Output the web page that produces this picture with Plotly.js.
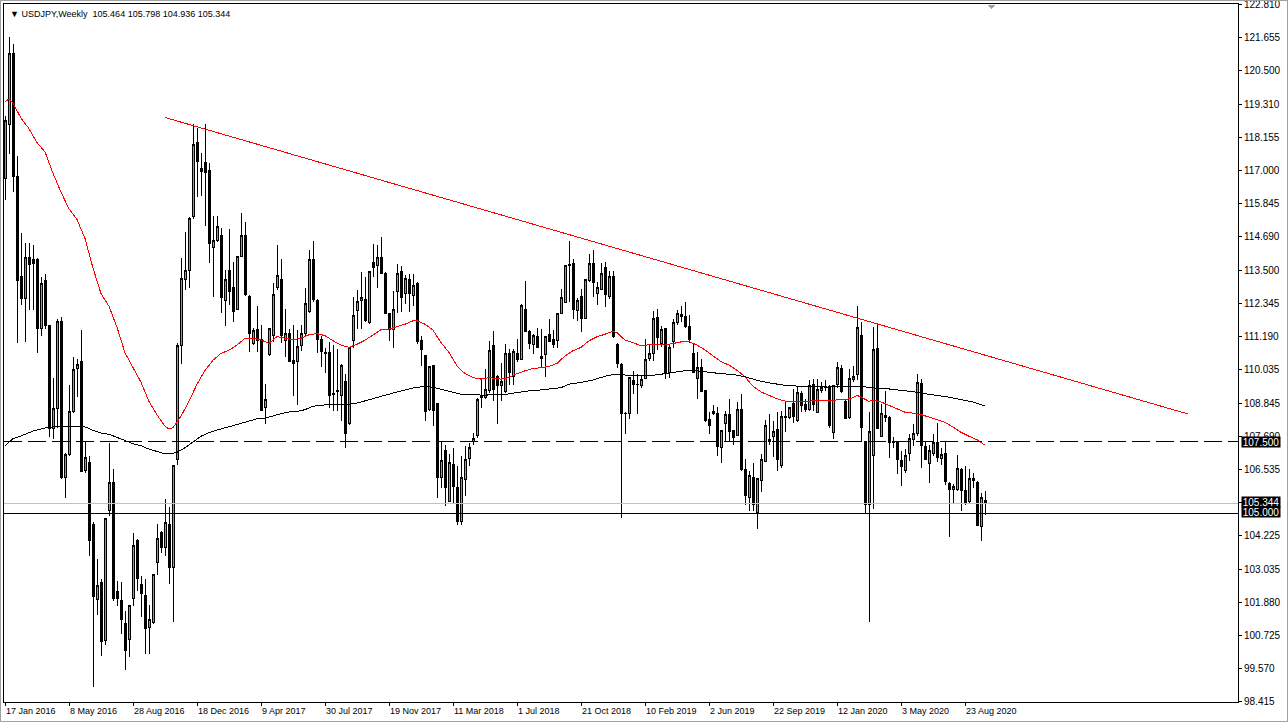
<!DOCTYPE html>
<html><head><meta charset="utf-8">
<script src="https://cdn.plot.ly/plotly-3.0.1.min.js"></script>
<style>
html,body{margin:0;padding:0;background:#fff;}
#chart{width:1288px;height:725px;}
#chart svg path{shape-rendering:crispEdges;}
</style></head><body><div id="chart"></div><script>
// ---- Weekly USDJPY candles, week 0 = 17 Jan 2016 ----
const opens = [
116.70,118.60,121.09,116.79,113.30,112.51,113.95,113.87,113.90,111.48,
113.14,111.58,107.96,108.67,111.73,106.26,107.07,108.55,110.07,110.33,
106.52,106.80,104.60,102.00,102.60,100.56,105.10,106.08,102.26,101.97,
101.15,100.60,102.04,104.07,102.53,102.14,101.00,101.20,103.27,104.33,
103.82,104.60,103.10,106.87,110.89,113.20,113.50,115.39,117.98,117.05,
117.26,117.00,114.29,114.55,114.73,112.44,113.51,112.90,112.12,114.00,
114.73,112.60,110.93,111.43,111.07,108.69,110.57,111.23,112.89,113.18,
111.05,111.29,110.36,110.33,110.89,111.29,112.08,113.87,112.46,111.10,
110.64,110.63,109.20,109.25,109.14,109.60,108.15,111.04,112.11,112.45,
112.50,111.68,113.79,113.67,113.94,113.41,112.00,111.45,112.77,113.47,
112.68,113.20,112.62,113.05,111.04,110.51,108.64,110.16,108.84,106.27,
107.21,105.43,106.70,105.90,104.71,106.19,106.91,107.50,107.71,109.05,
109.05,109.31,110.86,109.80,109.46,109.26,110.61,109.79,110.61,110.40,
112.15,111.36,110.90,111.18,110.48,110.57,111.27,111.07,111.04,112.00,
112.38,113.72,113.73,112.09,112.58,111.83,113.14,113.73,112.71,112.85,
113.59,112.58,113.29,110.90,110.22,108.49,108.49,109.66,109.52,109.49,
109.72,110.42,110.61,111.87,110.95,111.48,109.92,111.01,111.68,111.95,
111.89,111.54,110.60,109.72,110.10,109.31,108.27,108.49,108.49,107.29,
108.16,108.45,107.90,107.72,108.64,106.55,105.55,106.26,105.02,106.17,
106.82,107.50,107.70,107.93,106.67,108.35,108.37,108.84,108.25,109.19,
108.80,108.63,109.52,108.54,109.31,109.45,109.42,107.84,109.50,110.07,
108.92,108.37,109.68,109.86,111.24,107.51,105.32,107.04,110.77,107.69,
108.35,108.37,107.50,107.52,106.84,106.49,107.08,107.57,107.78,109.54,
107.34,106.75,107.10,107.49,106.92,107.11,106.06,105.83,105.85,106.55,
105.79,105.41,106.23,106.10,104.55,105.464];
const highs = [
118.90,121.67,121.42,117.50,114.80,114.47,114.47,114.40,113.95,113.28,
113.36,111.60,109.73,111.79,111.88,107.10,109.50,110.47,110.40,111.40,
107.50,107.00,104.70,103.40,102.70,104.85,107.47,106.55,102.63,102.60,
101.60,101.80,104.33,104.10,102.80,102.70,101.80,102.86,104.63,104.40,
105.50,105.24,106.70,110.95,113.93,114.85,115.36,118.63,118.48,117.60,
118.63,117.26,115.42,115.42,115.00,113.51,114.94,113.80,113.98,115.50,
115.18,112.65,111.49,112.24,111.60,109.52,111.49,113.07,114.38,113.90,
112.14,111.45,111.60,111.43,111.60,112.90,114.20,114.52,112.50,111.20,
110.80,110.98,110.90,110.75,110.22,109.87,110.83,112.58,112.80,113.43,
113.26,113.48,114.43,114.40,114.68,113.45,112.02,112.79,113.73,113.67,
113.34,113.38,113.38,113.10,111.21,110.55,110.16,110.20,108.85,107.54,
107.40,107.07,107.30,106.66,107.00,107.36,107.48,107.83,109.03,109.75,
110.05,111.04,111.39,109.85,110.28,110.92,110.75,110.75,111.10,112.32,
113.14,111.40,111.28,111.50,111.45,111.22,111.80,111.40,112.02,112.85,
113.70,114.52,113.90,112.55,112.85,113.19,114.08,114.20,113.10,113.75,
113.80,113.49,113.49,110.95,110.25,108.55,109.78,109.99,109.87,109.80,
111.10,110.90,112.09,112.15,111.54,111.50,110.89,111.80,112.12,112.24,
112.38,111.95,110.95,110.66,110.40,109.33,108.54,108.78,108.72,107.92,
108.60,109.01,107.92,108.90,109.19,106.90,106.50,106.75,106.25,107.08,
108.27,108.49,108.25,108.54,108.60,108.90,108.72,109.37,109.42,109.30,
109.00,109.68,109.72,109.69,109.60,109.68,109.50,109.50,110.30,110.19,
109.00,110.05,110.15,112.24,111.71,107.55,108.54,111.51,111.60,108.84,
109.28,108.40,107.68,107.55,107.20,107.25,107.78,108.13,109.87,109.72,
107.50,107.40,107.78,108.16,107.30,107.52,106.10,106.02,107.05,106.60,
106.67,106.55,106.43,106.12,105.73,105.798];
const lows = [
115.95,117.57,116.24,110.96,112.30,111.00,112.10,112.10,110.60,111.20,
111.45,107.66,107.62,108.00,106.20,105.55,107.00,108.50,109.07,106.45,
106.40,103.50,98.94,101.45,100.00,100.41,104.90,101.95,101.75,100.78,
99.53,99.97,101.75,102.30,101.37,100.10,100.10,101.15,102.86,103.60,
103.50,102.52,101.19,106.70,110.24,112.80,112.90,115.30,116.07,116.10,
115.06,113.75,112.56,114.50,112.02,111.57,112.30,111.70,112.10,113.98,
112.60,110.65,110.90,110.65,108.60,108.12,110.50,111.00,112.80,110.95,
110.48,110.30,109.10,108.80,110.70,111.20,112.00,112.40,110.60,110.12,
109.90,108.70,108.60,108.59,108.24,107.30,108.10,110.80,111.45,111.45,
111.70,111.62,113.26,112.90,113.40,111.97,111.04,110.80,112.00,112.03,
112.32,112.05,112.27,110.92,110.16,108.24,108.60,108.06,105.55,105.90,
105.26,105.40,105.32,104.61,104.61,105.60,106.66,107.40,107.65,108.70,
109.00,109.20,108.94,108.12,108.94,109.20,109.49,109.49,110.30,110.38,
111.35,110.75,110.57,110.79,110.08,109.78,110.98,110.80,110.78,111.98,
112.36,112.38,111.80,111.74,111.33,111.80,113.10,112.56,112.30,112.80,
112.23,112.50,111.15,110.10,104.85,107.77,108.29,109.17,108.47,109.40,
109.70,110.35,110.35,110.72,110.83,109.72,109.75,110.80,111.60,111.70,
111.50,110.95,109.90,109.00,109.25,108.20,107.78,108.45,107.02,106.78,
107.49,107.49,107.40,107.70,106.50,105.29,105.08,105.08,104.44,105.76,
106.80,107.40,106.96,106.47,106.60,107.84,108.30,108.15,108.20,108.55,
108.55,108.60,108.57,108.50,109.20,109.30,108.00,107.60,109.40,109.20,
108.30,108.30,109.60,109.66,107.49,105.02,101.21,105.14,107.95,107.67,
108.19,106.94,107.30,106.37,105.96,106.40,106.85,107.35,107.70,106.60,
106.88,106.08,107.00,106.80,106.70,106.00,104.18,105.32,105.80,105.10,
105.30,105.35,105.90,104.55,104.03,104.936];
const closes = [
118.76,121.09,116.79,113.14,112.51,113.95,113.70,113.75,111.48,113.06,
111.58,107.96,108.67,111.73,106.26,107.07,108.55,110.03,110.22,106.48,
106.95,104.04,102.10,102.49,100.53,104.82,106.08,102.01,102.04,101.30,
100.19,101.79,103.89,102.71,102.19,100.96,101.30,102.86,104.11,103.82,
104.70,103.10,106.67,110.89,113.21,113.49,115.30,117.89,117.30,116.96,
116.93,114.46,114.55,115.04,112.56,113.18,112.77,112.08,113.98,114.73,
112.65,111.31,111.39,111.05,108.60,109.00,111.46,112.65,113.33,111.23,
111.29,110.33,110.26,110.83,111.29,112.35,113.87,112.50,111.10,110.65,
110.60,109.14,109.15,109.29,110.19,107.79,110.80,111.94,112.41,112.56,
111.74,113.46,113.59,113.96,113.41,112.00,111.43,112.14,113.41,112.56,
113.22,112.68,112.99,111.02,110.75,108.56,110.13,108.59,106.25,106.86,
105.90,106.78,105.96,104.71,106.25,106.89,107.30,107.63,109.00,109.10,
109.35,110.71,109.35,109.46,109.60,110.61,109.93,110.67,110.40,112.29,
111.37,110.96,111.21,110.81,110.43,111.19,111.02,110.92,112.00,112.54,
113.67,113.67,112.15,112.46,111.83,113.17,113.73,113.08,112.89,113.41,
112.65,113.29,111.18,110.25,108.49,108.50,109.75,109.52,109.50,109.70,
110.40,110.61,111.83,111.16,111.44,109.92,110.81,111.68,112.00,111.90,
111.54,111.07,109.92,110.10,109.27,108.25,108.08,108.57,107.34,107.90,
108.45,107.88,107.66,108.63,106.53,105.63,106.34,105.32,106.23,106.90,
108.08,107.58,107.88,106.90,108.39,108.39,108.70,108.39,109.23,108.78,
108.63,109.48,108.80,109.34,109.42,109.40,108.07,109.46,110.10,109.25,
108.31,109.72,109.80,111.51,108.02,105.32,107.85,110.74,107.98,108.49,
108.43,107.49,107.48,106.87,106.63,107.04,107.61,107.78,109.58,107.37,
106.90,107.20,107.49,106.96,107.05,106.12,105.85,105.93,106.58,105.81,
105.35,106.23,106.16,104.58,105.55,105.344];

// ---- Moving averages (week index, value) ----
const redMaWeeks = [0,1,2,4,6,8,10,12,14,16,18,20,22,24,26,28,30,32,34,36,38,40,41,42,
44,46,48,50,52,54,56,58,60,62,64,66,68,70,72,74,76,78,80,82,84,86,88,90,92,94,96,98,100,102,
103,105,107,109,111,113,115,117,119,121,124,126,128,130,132,134,136,138,140,142,144,146,148,150,152,
153,155,157,159,161,163,165,167,169,171,173,175,177,179,181,183,185,187,189,191,193,195,197,199,201,203,
206,208,210,212,213,214,216,217,219,221,223,225,227,229,231,233,235,237,239,241,243,245];
const redMa = [119.40,119.50,119.35,
118.83,118.46,117.97,117.65,116.90,116.24,115.65,115.28,114.62,113.58,112.69,112.25,111.51,110.62,110.10,109.59,108.92,108.45,108.05,
107.95,108.00,
108.40,108.93,109.52,110.00,110.36,110.60,110.71,110.89,111.13,111.13,111.07,110.95,111.19,111.13,111.07,111.13,111.25,111.29,111.22,111.04,110.89,110.81,110.92,111.06,111.25,111.43,111.45,111.53,111.62,111.74,
111.74,
111.62,111.41,110.98,110.63,110.16,109.89,109.75,109.70,109.75,
109.70,
109.75,109.89,109.99,110.07,110.10,110.14,110.25,110.51,110.69,110.81,111.04,111.18,111.27,111.37,
111.33,
111.06,110.98,110.86,110.90,110.92,110.89,110.95,111.00,111.01,110.89,110.72,110.50,110.31,110.19,110.01,109.78,109.45,109.25,109.13,109.01,108.93,108.90,108.92,108.93,108.96,
108.96,108.96,108.98,109.05,
109.13,109.07,
108.92,108.96,
108.90,108.78,108.66,108.54,108.51,108.46,108.37,108.29,108.19,108.02,107.84,107.70,107.58,107.39];
const blackMaWeeks = [0,2,4,7,10,12,16,20,22,24,26,28,30,32,34,36,38,40,41,
43,45,47,49,51,53,55,57,59,61,63,65,67,69,71,73,75,77,79,81,84,
86,88,90,92,94,96,98,100,102,104,106,108,110,112,114,116,118,120,122,
125,128,131,134,137,
139,141,143,145,147,149,151,153,155,157,159,161,163,165,167,169,171,173,175,177,179,181,183,185,187,189,191,193,195,197,199,201,203,205,
206,208,210,212,214,216,218,220,222,224,226,228,230,232,234,236,238,240,242,244,245];
const blackMa = [107.37,107.62,107.71,107.88,107.99,108.03,108.03,108.03,
107.91,107.81,107.77,107.66,107.56,107.44,107.37,107.25,107.17,107.08,
107.08,
107.14,107.30,107.50,107.70,107.83,107.92,108.00,108.07,108.15,108.25,108.31,108.33,108.42,108.49,108.55,108.57,108.63,108.75,108.79,108.80,
108.80,
108.82,108.86,108.94,109.03,109.11,109.19,109.25,109.32,109.39,109.43,109.43,109.38,109.31,109.23,109.17,109.15,109.14,109.14,109.15,
109.16,109.23,109.29,109.32,109.37,
109.40,109.52,109.56,109.61,109.67,109.75,109.84,109.85,109.84,109.83,109.81,109.82,109.85,109.89,109.93,109.98,110.01,109.99,109.95,109.92,109.89,109.87,109.84,109.78,109.69,109.62,109.57,109.52,109.48,109.46,109.46,109.45,109.44,109.42,
109.43,
109.43,109.43,109.45,109.46,109.40,109.39,109.37,109.34,109.31,109.26,109.24,109.19,109.15,109.12,109.07,109.01,108.96,108.90,108.80,
108.78];

// ---- Drawn objects ----
const trendWeeks = [40, 295.75];
const trendPrices = [118.85, 108.48];
const dashedLevel = 107.5;
const solidLevel = 105.0;

// ---- Axis labels ----
const xTickWeeks = [0,16,32,48,64,80,96,112,128,144,160,176,192,208,224,240];
const xTickLabels = ['17 Jan 2016','8 May 2016','28 Aug 2016','18 Dec 2016','9 Apr 2017','30 Jul 2017',
  '19 Nov 2017','11 Mar 2018','1 Jul 2018','21 Oct 2018','10 Feb 2019','2 Jun 2019','22 Sep 2019',
  '12 Jan 2020','3 May 2020','23 Aug 2020'];
const yTickValues = [122.810,121.655,120.500,119.310,118.155,117.000,115.845,114.690,113.500,112.345,
  111.190,110.035,108.845,107.690,106.535,105.380,104.225,103.035,101.880,100.725,99.570,98.415];
const symbolName = 'USDJPY,Weekly';

// ---- Build ----
const weekIdx = opens.map((_, i) => i);
const last = closes.length - 1;
const bid = closes[last];
const FONT = '"Liberation Sans", Arial, sans-serif';

const traces = [
  {type:'candlestick', x:weekIdx, open:opens, high:highs, low:lows, close:closes,
   increasing:{line:{color:'#000000', width:1}, fillcolor:'#00ff00'},
   decreasing:{line:{color:'#000000', width:1}, fillcolor:'#000000'},
   whiskerwidth:0, hoverinfo:'skip', showlegend:false},
  {type:'scatter', mode:'lines', x:redMaWeeks, y:redMa, line:{color:'#ff0000', width:1}, hoverinfo:'skip'},
  {type:'scatter', mode:'lines', x:blackMaWeeks, y:blackMa, line:{color:'#000000', width:1}, hoverinfo:'skip'},
  {type:'scatter', mode:'lines', x:trendWeeks, y:trendPrices, line:{color:'#ff0000', width:1}, hoverinfo:'skip'}
];

const PL = 4, PR = 1238, PT = 4, PB = 702;
const px2x = p => (p - PL) / (PR - PL);
const py2y = p => (PB - p) / (PB - PT);

const shapes = [
  {type:'line', xref:'paper', yref:'y', x0:0, x1:1, y0:bid, y1:bid, line:{color:'#c0c0c0', width:1}},
  {type:'line', xref:'paper', yref:'y', x0:0, x1:1, y0:solidLevel, y1:solidLevel, line:{color:'#000000', width:1}},
  {type:'line', xref:'paper', yref:'y', x0:0, x1:1, y0:dashedLevel, y1:dashedLevel, line:{color:'#000000', width:1, dash:'18px,6px'}},
  {type:'path', xref:'paper', yref:'paper',
   path:`M ${px2x(987)},${py2y(4.5)} L ${px2x(996)},${py2y(4.5)} L ${px2x(991.5)},${py2y(9.5)} Z`,
   fillcolor:'#a0a0a0', line:{width:0}},
  {type:'rect', xref:'paper', yref:'paper', x0:px2x(0.5), x1:px2x(1287), y0:py2y(0.5), y1:py2y(721.5),
   line:{color:'#a0a0a0', width:1}, fillcolor:'rgba(0,0,0,0)'}
];

function priceBox(v, yshift){
  return {xref:'paper', yref:'y', x:1, y:v, xanchor:'left', yanchor:'middle', xshift:3, yshift:yshift,
    text:v.toFixed(3), showarrow:false, bgcolor:'#000000', width:38, height:10, borderpad:0,
    font:{family:FONT, size:10, color:'#ffffff'}};
}

const annotations = [
  {xref:'paper', yref:'paper', x:px2x(8), y:1, xanchor:'left', yanchor:'top', yshift:-3, showarrow:false,
   text:'\u25BC ' + symbolName + '\u00a0\u00a0' + [opens[last], highs[last], lows[last], closes[last]].map(v => v.toFixed(3)).join(' '),
   font:{family:FONT, size:9, color:'#000000'}},
  priceBox(dashedLevel, 0),
  priceBox(bid, 1.5),
  priceBox(solidLevel, 1.5)
];

const layout = {
  width:1288, height:725,
  margin:{l:PL, r:1288-PR, t:PT, b:725-PB, pad:0},
  paper_bgcolor:'#ffffff', plot_bgcolor:'#ffffff',
  showlegend:false, hovermode:false, boxgap:0.5, boxgroupgap:0,
  font:{family:FONT, size:10, color:'#000000'},
  xaxis:{range:[-0.25, 308.25], tickmode:'array', tickvals:xTickWeeks, ticktext:xTickLabels,
    ticks:'outside', ticklen:3, tickwidth:1, tickcolor:'#000000', ticklabelposition:'outside right',
    tickfont:{family:FONT, size:9, color:'#000000'},
    showline:true, linecolor:'#000000', linewidth:1, mirror:true,
    showgrid:false, zeroline:false, rangeslider:{visible:false}, fixedrange:true},
  yaxis:{side:'right', range:[98.405, 122.82], tickmode:'array', tickvals:yTickValues,
    ticktext:yTickValues.map(v => v.toFixed(3)), ticklabeloverflow:'allow',
    ticks:'outside', ticklen:3, tickwidth:1, tickcolor:'#000000',
    tickfont:{family:FONT, size:10, color:'#000000'},
    showline:true, linecolor:'#000000', linewidth:1, mirror:true,
    showgrid:false, zeroline:false, fixedrange:true},
  shapes:shapes, annotations:annotations
};

Plotly.newPlot('chart', traces, layout, {staticPlot:true, displayModeBar:false});
</script></body></html>
